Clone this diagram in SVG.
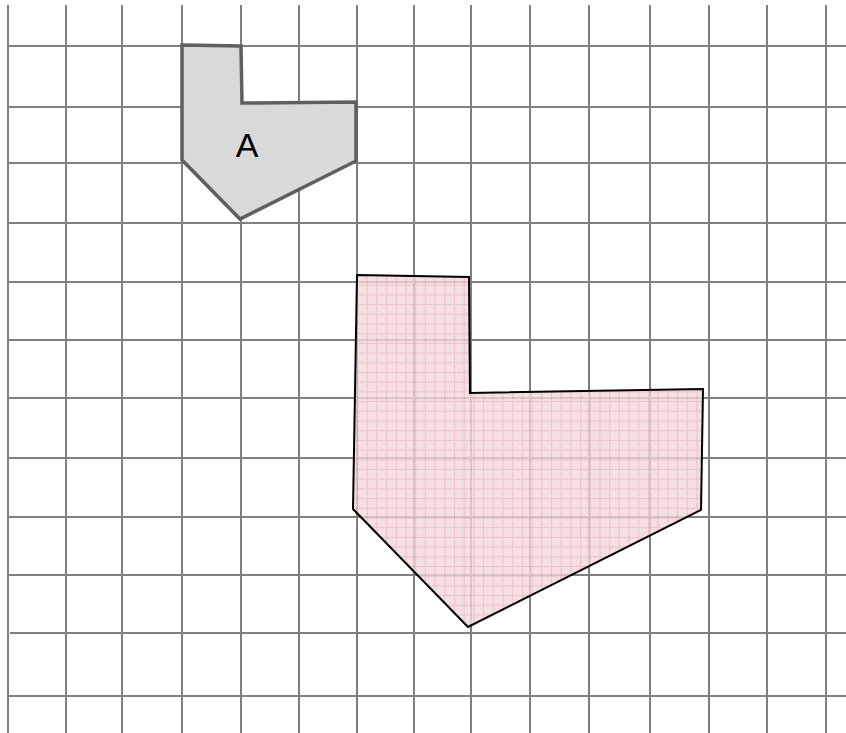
<svg xmlns="http://www.w3.org/2000/svg" width="846" height="733" viewBox="0 0 846 733">
<style>
.g line{stroke:#7f7f7f;stroke-width:2}
.lbl{font-family:"Liberation Sans",Arial,sans-serif;font-size:34px;fill:#000}
</style>
<defs>
<pattern id="pk" width="9.7" height="9.7" patternUnits="userSpaceOnUse" x="357" y="275">
<rect width="9.7" height="9.7" fill="#f2d6da"/>
<path d="M0 0.5H9.7M0.5 0V9.7" stroke="#e8b3b9" stroke-width="1"/>
<circle cx="5" cy="5" r="0.7" fill="#fbeef0"/>
<circle cx="3" cy="3" r="0.5" fill="#fbeef0"/>
<circle cx="7" cy="7" r="0.5" fill="#fbeef0"/>
</pattern>
</defs>
<rect width="846" height="733" fill="#fff"/>
<g class="g" id="grid">
<line x1="8" y1="5" x2="8" y2="733"/>
<line x1="66" y1="5" x2="66" y2="733"/>
<line x1="122" y1="5" x2="122" y2="733"/>
<line x1="182" y1="5" x2="182" y2="733"/>
<line x1="241" y1="5" x2="241" y2="733"/>
<line x1="299" y1="5" x2="299" y2="733"/>
<line x1="357" y1="5" x2="357" y2="733"/>
<line x1="414" y1="5" x2="414" y2="733"/>
<line x1="471" y1="5" x2="471" y2="733"/>
<line x1="530" y1="5" x2="530" y2="733"/>
<line x1="589" y1="5" x2="589" y2="733"/>
<line x1="650" y1="5" x2="650" y2="733"/>
<line x1="709" y1="5" x2="709" y2="733"/>
<line x1="767" y1="5" x2="767" y2="733"/>
<line x1="826" y1="5" x2="826" y2="733"/>
<line x1="8" y1="46" x2="846" y2="46"/>
<line x1="8" y1="107" x2="846" y2="107"/>
<line x1="8" y1="163" x2="846" y2="163"/>
<line x1="8" y1="223" x2="846" y2="223"/>
<line x1="8" y1="282" x2="846" y2="282"/>
<line x1="8" y1="340" x2="846" y2="340"/>
<line x1="8" y1="398" x2="846" y2="398"/>
<line x1="8" y1="458" x2="846" y2="458"/>
<line x1="8" y1="517" x2="846" y2="517"/>
<line x1="8" y1="575" x2="846" y2="575"/>
<line x1="10" y1="633" x2="846" y2="633"/>
<line x1="8" y1="696" x2="846" y2="696"/>
</g>
<g id="shapeA">
<polygon points="182,45 241,46 242,103 356,102 356,161 240,219 182,160" fill="#d9d9d9" stroke="#5f5f5f" stroke-width="3.5" stroke-linejoin="miter"/>
<text class="lbl" x="247" y="157" text-anchor="middle">A</text>
</g>
<g id="shapeB">
<polygon points="357,275 469,277 470,393 703,389 701,510 468,627 353,509" fill="url(#pk)" fill-opacity="0.8" stroke="#000" stroke-width="2"/>
</g>
</svg>
